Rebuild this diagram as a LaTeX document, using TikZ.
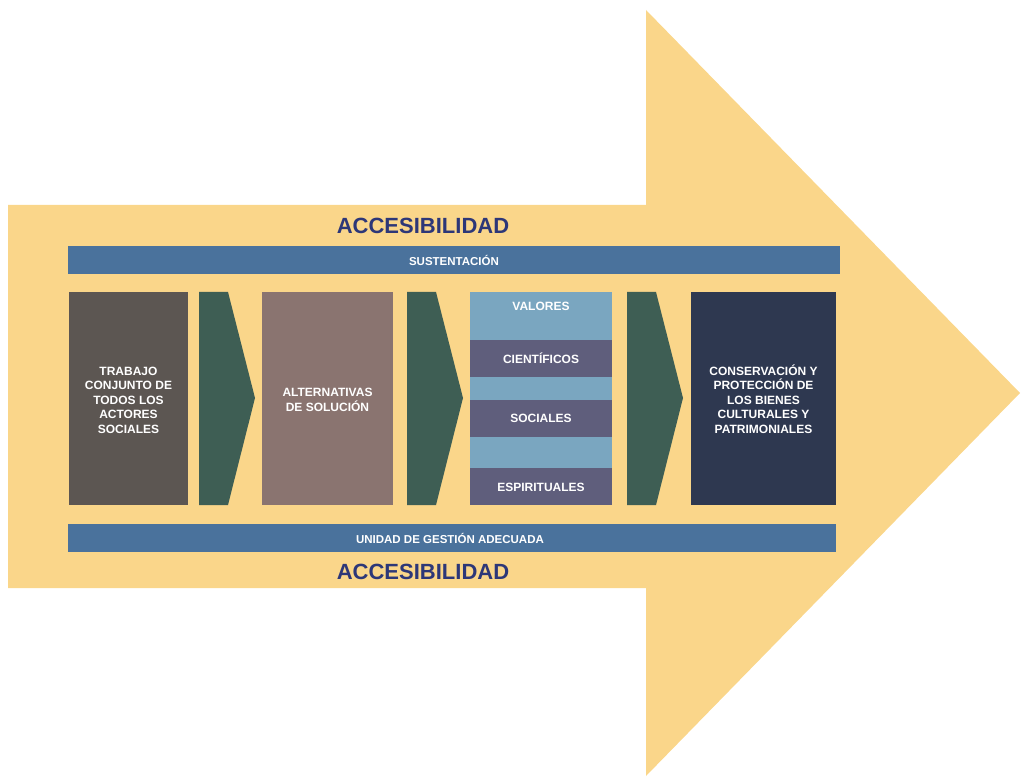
\documentclass[tikz,border=0pt]{standalone}
\usepackage{fontspec}
\setmainfont{Liberation Sans}
\definecolor{arrowyellow}{RGB}{250,214,138}
\definecolor{barblue}{RGB}{74,114,156}
\definecolor{boxgrey}{RGB}{92,86,82}
\definecolor{boxmauve}{RGB}{138,116,112}
\definecolor{boxnavy}{RGB}{46,56,80}
\definecolor{chevgreen}{RGB}{62,94,84}
\definecolor{stripelight}{RGB}{122,166,192}
\definecolor{stripedark}{RGB}{95,94,124}
\definecolor{titleblue}{RGB}{45,55,120}
\begin{document}
\begin{tikzpicture}
  [
    x=1pt, y=-1pt,
    title/.style={text=titleblue, font=\fontsize{22}{26}\selectfont\bfseries},
    bartext/.style={text=white, font=\fontsize{11.5}{13}\selectfont\bfseries},
    boxtext/.style={text=white, align=center, font=\fontsize{12}{14.5}\selectfont\bfseries},
  ]
    \useasboundingbox (0,0) rectangle (1021,778);

    % big arrow
    \fill [arrowyellow] (8,205) -- (646,205) -- (646,10) -- (1020,393)
      -- (646,776) -- (646,588) -- (8,588) -- cycle;

    % bars
    \fill [barblue] (68,246) rectangle (840,274);
    \fill [barblue] (68,524) rectangle (836,552);
    \node [title] (acctop) at (423,226) {ACCESIBILIDAD};
    \node [title] (accbot) at (423,572) {ACCESIBILIDAD};
    \node [bartext] (sust) at (454,260) {SUSTENTACIÓN};
    \node [bartext] (unidad) at (450,538) {UNIDAD DE GESTIÓN ADECUADA};

    % boxes
    \fill [boxgrey] (69,292) rectangle (188,505);
    \fill [boxmauve] (262,292) rectangle (393,505);
    \fill [boxnavy] (691,292) rectangle (836,505);
    \node [boxtext] (trabajo) at (128.5,400) {TRABAJO\\CONJUNTO DE\\TODOS LOS\\ACTORES\\SOCIALES};
    \node [boxtext] (altern) at (327.5,400) {ALTERNATIVAS\\DE SOLUCIÓN};
    \node [boxtext] (conserv) at (763.5,399) {CONSERVACIÓN Y\\PROTECCIÓN DE\\LOS BIENES\\CULTURALES Y\\PATRIMONIALES};

    % chevrons
    \foreach \x in {199,407,627} {
      \fill [chevgreen] (\x,292) -- (\x+29,292) -- (\x+56,398)
        -- (\x+29,505) -- (\x,505) -- cycle;
    }

    % values column
    \foreach \a/\b/\c in {292/340/stripelight,340/377/stripedark,377/400/stripelight,
                          400/437/stripedark,437/468/stripelight,468/505/stripedark} {
      \fill [\c] (470,\a) rectangle (612,\b);
    }
    \node [boxtext] (valores) at (541,306) {VALORES};
    \node [boxtext] (cient) at (541,358) {CIENTÍFICOS};
    \node [boxtext] (sociales) at (541,418) {SOCIALES};
    \node [boxtext] (espir) at (541,487) {ESPIRITUALES};
  \end{tikzpicture}
\end{document}
